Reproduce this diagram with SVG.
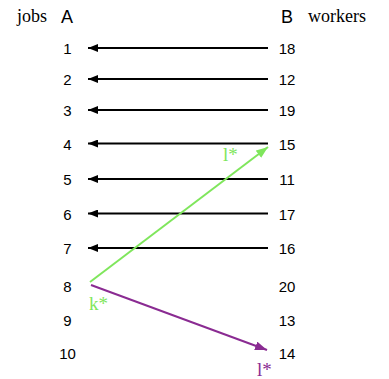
<svg xmlns="http://www.w3.org/2000/svg" width="389" height="379" viewBox="0 0 389 379">
<defs>
<style>
.num{font-family:"Liberation Sans",Arial,sans-serif;font-size:15px;fill:#000;text-anchor:middle}
.hd{font-family:"Liberation Sans",Arial,sans-serif;font-size:18px;fill:#000}
.ser{font-family:"Liberation Serif","Times New Roman",serif;font-size:18px;fill:#000}
.lab{font-family:"Liberation Serif","Times New Roman",serif;font-size:19px}
.blk{stroke:#000;stroke-width:2;fill:none;marker-end:url(#ab)}
</style>
<marker id="ab" viewBox="0 0 10 8" refX="10" refY="4" markerWidth="10" markerHeight="8" markerUnits="userSpaceOnUse" orient="auto"><path d="M0,0 L10,4 L0,8 Z" fill="#000"/></marker>
<marker id="ag" viewBox="0 0 12 9" refX="12" refY="4.5" markerWidth="12" markerHeight="9" markerUnits="userSpaceOnUse" orient="auto"><path d="M0,0 L12,4.5 L0,9 Z" fill="#7fe65c"/></marker>
<marker id="ap" viewBox="0 0 12 9" refX="12" refY="4.5" markerWidth="12" markerHeight="9" markerUnits="userSpaceOnUse" orient="auto"><path d="M0,0 L12,4.5 L0,9 Z" fill="#8a2b92"/></marker>
</defs>
<rect width="389" height="379" fill="#fff"/>
<g id="headers">
<text class="ser" x="17" y="22">jobs</text>
<text class="hd" x="61" y="23">A</text>
<text class="hd" x="281" y="23">B</text>
<text class="ser" x="308" y="22">workers</text>
</g>
<g id="jobs">
<text class="num" x="67.5" y="54">1</text>
<text class="num" x="67.5" y="85">2</text>
<text class="num" x="67.5" y="116">3</text>
<text class="num" x="67.5" y="150">4</text>
<text class="num" x="67.5" y="185">5</text>
<text class="num" x="67.5" y="220">6</text>
<text class="num" x="67.5" y="254">7</text>
<text class="num" x="67.5" y="292">8</text>
<text class="num" x="67.5" y="326">9</text>
<text class="num" x="67.5" y="359">10</text>
</g>
<g id="workers">
<text class="num" x="287" y="54">18</text>
<text class="num" x="287" y="85">12</text>
<text class="num" x="287" y="116">19</text>
<text class="num" x="287" y="150">15</text>
<text class="num" x="287" y="185">11</text>
<text class="num" x="287" y="220">17</text>
<text class="num" x="287" y="254">16</text>
<text class="num" x="287" y="292">20</text>
<text class="num" x="287" y="326">13</text>
<text class="num" x="287" y="359">14</text>
</g>
<g id="connectors">
<line class="blk" x1="268" y1="48" x2="88" y2="48"/>
<line class="blk" x1="268" y1="79" x2="88" y2="79"/>
<line class="blk" x1="268" y1="110" x2="88" y2="110"/>
<line class="blk" x1="268" y1="143.5" x2="88" y2="143.5"/>
<line class="blk" x1="268" y1="179" x2="88" y2="179"/>
<line class="blk" x1="268" y1="213.5" x2="88" y2="213.5"/>
<line class="blk" x1="268" y1="248" x2="88" y2="248"/>
<line x1="90" y1="282" x2="268" y2="147" stroke="#7fe65c" stroke-width="2" marker-end="url(#ag)"/>
<line x1="91" y1="285" x2="267" y2="350" stroke="#8a2b92" stroke-width="2" marker-end="url(#ap)"/>
</g>
<g id="labels">
<text class="lab" x="223" y="161" fill="#7fe65c">l*</text>
<text class="lab" x="89" y="310" fill="#7fe65c">k*</text>
<text class="lab" x="257" y="376" fill="#8a2b92">l*</text>
</g>
</svg>
